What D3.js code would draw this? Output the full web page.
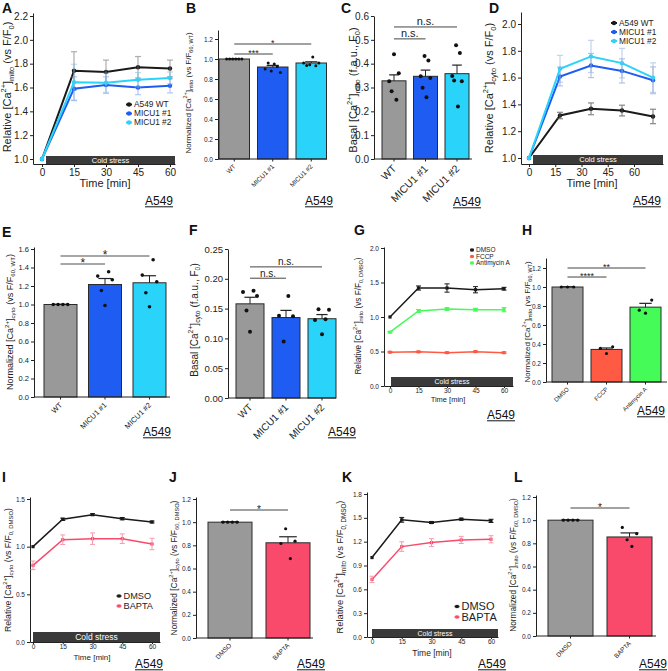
<!DOCTYPE html>
<html><head><meta charset="utf-8">
<script src="https://cdn.jsdelivr.net/npm/d3@7"></script>
<style>body{margin:0;background:#fff}svg{display:block}</style>
</head><body><script>
// ================= DATA =================
const timePoints = [0, 15, 30, 45, 60];
const timeTicks = [0, 15, 30, 45, 60];
const micuCats = ["WT", "MICU1 #1", "MICU1 #2"];
const drugCats = ["DMSO", "FCCP", "Antimycin A"];
const baptaCats = ["DMSO", "BAPTA"];
const micuLegend = ["A549 WT", "MICU1 #1", "MICU1 #2"];
const drugLegend = ["DMSO", "FCCP", "Antimycin A"];
const baptaLegend = ["DMSO", "BAPTA"];

// A: relative mito Ca
const aTicks = [1.0, 1.2, 1.4, 1.6, 1.8, 2.0, 2.2];
const aWT = [1.0, 1.74, 1.73, 1.77, 1.76];
const aWTErr = [0, 0.16, 0.10, 0.09, 0.07];
const aM1 = [1.0, 1.59, 1.62, 1.60, 1.615];
const aM1Err = [0, 0.10, 0.07, 0.06, 0.06];
const aM2 = [1.0, 1.645, 1.64, 1.665, 1.68];
const aM2Err = [0, 0.15, 0.08, 0.06, 0.05];

// B: normalized mito
const bTicks = [0, 0.2, 0.4, 0.6, 0.8, 1.0, 1.2];
const bMean = [1.0, 0.92, 0.96];
const bSem = [0.004, 0.016, 0.012];
const bPoints = [[1, 1, 1, 1, 1, 1], [0.90, 0.96, 0.88, 0.95, 0.926, 0.866], [0.96, 0.936, 0.943, 1.02, 0.933, 0.96]];

// C: basal mito
const cTicks = [0, 0.1, 0.2, 0.3, 0.4, 0.5, 0.6];
const cMean = [0.328, 0.347, 0.358];
const cSem = [0.025, 0.026, 0.036];
const cPoints = [[0.326, 0.284, 0.44, 0.249, 0.36], [0.347, 0.299, 0.432, 0.259, 0.413, 0.34], [0.348, 0.329, 0.477, 0.22, 0.445, 0.326]];

// D: relative cyto
const dTicks = [1.0, 1.2, 1.4, 1.6, 1.8, 2.0];
const dWT = [1.0, 1.317, 1.367, 1.354, 1.31];
const dWTErr = [0, 0.024, 0.044, 0.04, 0.054];
const dM1 = [1.0, 1.608, 1.69, 1.65, 1.58];
const dM1Err = [0, 0.07, 0.09, 0.09, 0.1];
const dM2 = [1.0, 1.666, 1.758, 1.708, 1.6];
const dM2Err = [0, 0.1, 0.12, 0.11, 0.11];

// E: normalized cyto
const eTicks = [0, 0.2, 0.4, 0.6, 0.8, 1.0, 1.2, 1.4, 1.6];
const eMean = [1.0, 1.216, 1.235];
const eSem = [0.003, 0.065, 0.076];
const ePoints = [[1, 1, 1, 1], [1.307, 1.152, 0.99, 1.354, 1.268], [1.318, 1.127, 0.975, 1.484, 1.246]];

// F: basal cyto
const fTicks = [0, 0.05, 0.10, 0.15, 0.20, 0.25];
const fMean = [0.158, 0.135, 0.133];
const fSem = [0.011, 0.012, 0.007];
const fPoints = [[0.178, 0.147, 0.111, 0.180, 0.171], [0.138, 0.095, 0.171, 0.137], [0.131, 0.149, 0.107, 0.132, 0.148]];

// G: relative mito with drugs
const gTicks = [0, 0.5, 1.0, 1.5, 2.0];
const gDMSO = [1.0, 1.42, 1.42, 1.395, 1.41];
const gDMSOErr = [0, 0.03, 0.06, 0.045, 0.02];
const gFCCP = [0.49, 0.495, 0.483, 0.498, 0.483];
const gFCCPErr = [0.008, 0.01, 0.01, 0.01, 0.01];
const gAnti = [0.78, 1.087, 1.116, 1.106, 1.106];
const gAntiErr = [0.01, 0.02, 0.02, 0.02, 0.03];

// H: normalized mito with drugs
const hTicks = [0, 0.2, 0.4, 0.6, 0.8, 1.0, 1.2];
const hMean = [1.0, 0.343, 0.788];
const hSem = [0.003, 0.015, 0.04];
const hPoints = [[1, 1, 1], [0.353, 0.30, 0.37], [0.756, 0.724, 0.862]];

// I: relative cyto with BAPTA
const iTicks = [0, 0.5, 1.0, 1.5];
const iDMSO = [1.0, 1.287, 1.336, 1.294, 1.259];
const iDMSOErr = [0, 0.012, 0.01, 0.012, 0.01];
const iBAPTA = [0.804, 1.073, 1.084, 1.084, 1.028];
const iBAPTAErr = [0.045, 0.05, 0.06, 0.05, 0.06];

// J: normalized cyto with BAPTA
const jTicks = [0, 0.2, 0.4, 0.6, 0.8, 1.0, 1.2];
const jMean = [1.0, 0.822];
const jSem = [0.004, 0.052];
const jPoints = [[1, 1, 1, 1], [0.816, 0.943, 0.686, 0.836]];

// K: relative mito with BAPTA
const kTicks = [0, 0.3, 0.6, 0.9, 1.2, 1.5, 1.8];
const kDMSO = [1.0, 1.475, 1.441, 1.483, 1.462];
const kDMSOErr = [0, 0.03, 0.012, 0.012, 0.02];
const kBAPTA = [0.725, 1.138, 1.188, 1.222, 1.23];
const kBAPTAErr = [0.04, 0.06, 0.05, 0.045, 0.045];

// L: normalized mito with BAPTA
const lTicks = [0, 0.2, 0.4, 0.6, 0.8, 1.0, 1.2];
const lMean = [1.0, 0.855];
const lSem = [0.004, 0.035];
const lPoints = [[1, 1, 1, 1], [0.937, 0.831, 0.773, 0.883]];

// ================= STYLE =================
const FONT = "'Liberation Sans', Arial, Helvetica, sans-serif";
const INK = "#222";
const GRAY = "#999999", BLUE = "#1f5cf2", CYAN = "#2ad3fa";
const RED = "#ff5a44", GREEN = "#44fb58", PINK = "#fa4a6c";

const svg = d3.select("body").append("svg")
  .attr("width", 668).attr("height", 671)
  .style("font-family", FONT).style("background", "#fff");

function anchored(v0, p0, v1, p1, pa, pb) {
  const s = d3.scaleLinear().domain([v0, v1]).range([p0, p1]);
  return d3.scaleLinear().domain([s.invert(pa), s.invert(pb)]).range([pa, pb]);
}

function richText(sel, parts, fs) {
  let shift = 0;
  parts.forEach(([t, k]) => {
    const target = k === "sup" ? -0.42 * fs : k === "sub" ? 0.25 * fs : 0;
    const ts = sel.append("tspan").text(t).attr("dy", target - shift);
    if (k) ts.attr("font-size", fs * 0.68);
    shift = target;
  });
}

function yLabel(cx, cy, parts, fs) {
  const t = svg.append("text")
    .attr("transform", `translate(${cx + 0.35 * fs},${cy}) rotate(-90)`)
    .attr("text-anchor", "middle").attr("font-size", fs).attr("fill", INK);
  richText(t, parts, fs);
}

function lbl(kind, loc, sub) {
  if (kind === "rel") return [["Relative [Ca"], ["2+", "sup"], ["]"], [loc, "sub"], [" (vs F/F"], [sub, "sub"], [")"]];
  if (kind === "norm") return [["Normalized [Ca"], ["2+", "sup"], ["]"], [loc, "sub"], [" (vs F/F"], [sub, "sub"], [")"]];
  return [["Basal [Ca"], ["2+", "sup"], ["]"], [loc, "sub"], [" (f.a.u., F"], [sub, "sub"], [")"]];
}

function styleAxis(g, fs) {
  g.attr("font-family", FONT).attr("font-size", fs);
  g.select(".domain").attr("stroke", INK).attr("stroke-width", 1);
  g.selectAll(".tick line").attr("stroke", INK);
  g.selectAll(".tick text").attr("fill", INK);
}

function marker(g, shape, x, y, r, color) {
  if (shape === "sq") g.append("rect").attr("x", x - r).attr("y", y - r).attr("width", 2 * r).attr("height", 2 * r).attr("fill", color);
  else g.append("circle").attr("cx", x).attr("cy", y).attr("r", r).attr("fill", color);
}

// ---------- line panel ----------
function linePanel(c) {
  const y = anchored(c.yA[0], c.yA[1], c.yA[2], c.yA[3], c.xAxisY, c.yTop);
  const x = anchored(0, c.xA[0], 60, c.xA[1], c.yAxisX, c.xEnd);
  const xt = c.xT ? anchored(0, c.xT[0], 60, c.xT[1], c.yAxisX, c.xEnd) : x;
  const g = svg.append("g");
  const cx0 = x(0) + c.coldOff;
  g.append("rect").attr("x", cx0).attr("y", c.xAxisY - c.coldH)
    .attr("width", c.xEnd - cx0).attr("height", c.coldH).attr("fill", "#3a3a3a");
  g.append("text").attr("x", (cx0 + c.xEnd) / 2).attr("y", c.xAxisY - c.coldH / 2 + c.coldFs * 0.36)
    .attr("text-anchor", "middle").attr("font-size", c.coldFs).attr("fill", "#fff").text("Cold stress");
  const ga = g.append("g").attr("transform", `translate(${c.yAxisX},0)`)
    .call(d3.axisLeft(y).tickValues(c.yTicks).tickFormat(d3.format(c.yFmt)).tickSize(3).tickPadding(2).tickSizeOuter(0));
  styleAxis(ga, c.tickFs);
  const gb = g.append("g").attr("transform", `translate(0,${c.xAxisY})`)
    .call(d3.axisBottom(xt).tickValues(timeTicks).tickSize(c.xTickSize).tickPadding(c.xTickPad).tickSizeOuter(0));
  styleAxis(gb, c.tickFs);
  const ln = d3.line().x((d, i) => x(timePoints[i])).y(d => y(d));
  c.series.forEach(s => {
    g.append("path").datum(s.vals).attr("d", ln).attr("fill", "none")
      .attr("stroke", s.color).attr("stroke-width", c.lineW);
    s.vals.forEach((v, i) => marker(g, c.shape, x(timePoints[i]), y(v), c.mr, s.color));
    drawErr(s);
  });
  function drawErr(s) {
    const eg = g.append("g").attr("stroke", s.errColor).attr("stroke-width", c.errW).attr("opacity", s.errOp);
    s.vals.forEach((v, i) => {
      const e = s.err[i]; if (!e) return;
      const xx = x(timePoints[i]);
      eg.append("line").attr("x1", xx).attr("x2", xx).attr("y1", y(v - e)).attr("y2", y(v + e));
      [v - e, v + e].forEach(w => eg.append("line").attr("x1", xx - c.cap).attr("x2", xx + c.cap).attr("y1", y(w)).attr("y2", y(w)));
    });
  }
  c.series.forEach((s, i) => {
    const ly = c.leg.ys[i];
    g.append("line").attr("x1", c.leg.x - c.leg.len / 2).attr("x2", c.leg.x + c.leg.len / 2)
      .attr("y1", ly).attr("y2", ly).attr("stroke", s.color).attr("stroke-width", c.lineW);
    marker(g, c.shape, c.leg.x, ly, c.mr, s.color);
    g.append("text").attr("x", c.leg.x + c.leg.len / 2 + 2).attr("y", ly + c.leg.fs * 0.36)
      .attr("font-size", c.leg.fs).attr("fill", INK).text(s.name);
  });
  g.append("text").attr("x", c.time[0]).attr("y", c.time[1]).attr("text-anchor", "middle")
    .attr("font-size", c.time[2]).attr("fill", INK).text("Time [min]");
  yLabel(c.yl[0], c.yl[1], c.yl[2], c.yl[3]);
}

// ---------- bar panel ----------
function barPanel(c) {
  const y = anchored(c.yA[0], c.yA[1], c.yA[2], c.yA[3], c.xAxisY, c.yTop);
  const n = c.cats.length;
  const pi = 1 - c.bw / c.step, po = 0.5;
  const r0 = c.left - c.step * po;
  const xb = d3.scaleBand().domain(c.cats).range([r0, r0 + c.step * (n - pi + 2 * po)])
    .paddingInner(pi).paddingOuter(po);
  const bw = xb.bandwidth();
  const g = svg.append("g");
  c.cats.forEach((cat, i) => {
    g.append("rect").attr("x", xb(cat)).attr("y", y(c.mean[i])).attr("width", bw)
      .attr("height", y(0) - y(c.mean[i])).attr("fill", c.colors[i])
      .attr("stroke", "#2a2a2a").attr("stroke-width", 1);
  });
  c.cats.forEach((cat, i) => {
    const cx = xb(cat) + bw / 2, top = y(c.mean[i] + c.sem[i]);
    g.append("line").attr("x1", cx).attr("x2", cx).attr("y1", y(c.mean[i])).attr("y2", top).attr("stroke", INK);
    g.append("line").attr("x1", cx - bw * 0.2).attr("x2", cx + bw * 0.2).attr("y1", top).attr("y2", top).attr("stroke", INK).attr("stroke-width", 1.2);
  });
  c.cats.forEach((cat, i) => {
    const pts = c.points[i], m = pts.length, cx = xb(cat) + bw / 2;
    pts.forEach((v, j) => {
      const off = m > 1 ? (j / (m - 1) - 0.5) * 2 * c.spread * bw : 0;
      g.append("circle").attr("cx", cx + off).attr("cy", y(v)).attr("r", c.ptR).attr("fill", "#111");
    });
  });
  const ga = g.append("g").attr("transform", `translate(${c.yAxisX},0)`)
    .call(d3.axisLeft(y).tickValues(c.yTicks).tickFormat(d3.format(c.yFmt)).tickSize(3).tickPadding(2).tickSizeOuter(0));
  styleAxis(ga, c.tickFs);
  g.append("line").attr("x1", c.yAxisX).attr("x2", c.xEnd).attr("y1", y(0)).attr("y2", y(0)).attr("stroke", INK);
  c.cats.forEach(cat => {
    const cx = xb(cat) + bw / 2;
    g.append("line").attr("x1", cx).attr("x2", cx).attr("y1", y(0)).attr("y2", y(0) + 2.5).attr("stroke", INK);
    const tx = cx + c.xTickFs * 0.3, ty = y(0) + 4 + c.xTickFs * 0.6;
    g.append("text").attr("x", tx).attr("y", ty).attr("text-anchor", "end")
      .attr("transform", `rotate(-45,${tx},${ty})`).attr("font-size", c.xTickFs).attr("fill", INK).text(cat);
  });
  c.sig.forEach(s => {
    const x1 = xb(c.cats[s.a]) + bw / 2, x2 = xb(c.cats[s.b]) + bw / 2, yy = y(s.v);
    g.append("line").attr("x1", x1).attr("x2", x2).attr("y1", yy).attr("y2", yy)
      .attr("stroke", c.sigColor || "#444").attr("stroke-width", c.sigW || 1);
    const star = s.t.indexOf("*") >= 0;
    g.append("text").attr("x", (x1 + x2) / 2).attr("y", yy - (star ? -c.sigFs * 0.25 : c.sigFs * 0.15))
      .attr("text-anchor", "middle").attr("font-size", c.sigFs).attr("fill", INK).text(s.t);
  });
  yLabel(c.yl[0], c.yl[1], c.yl[2], c.yl[3]);
}

// ================= PANELS =================
linePanel({
  yAxisX: 33, xAxisY: 164, yTop: 13, yA: [1.0, 159, 2.2, 16], xA: [42, 170], xEnd: 175,
  yTicks: aTicks, yFmt: ".1f", tickFs: 10, xTickSize: 3, xTickPad: 2, coldOff: 4, coldH: 8, coldFs: 7.5,
  lineW: 2, mr: 2.2, shape: "c", errW: 1.2, cap: 3,
  series: [
    { name: micuLegend[0], vals: aWT, err: aWTErr, color: "#1a1a1a", errColor: "#777", errOp: 0.6 },
    { name: micuLegend[1], vals: aM1, err: aM1Err, color: BLUE, errColor: "#6d8fe8", errOp: 0.5 },
    { name: micuLegend[2], vals: aM2, err: aM2Err, color: CYAN, errColor: "#7fb8e0", errOp: 0.5 }
  ],
  leg: { x: 129, ys: [104.5, 113.5, 122.5], fs: 8.3, len: 6 },
  time: [105, 187, 11],
  yl: [7, 87, lbl("rel", "mito", "0"), 11]
});

barPanel({
  yAxisX: 218, xAxisY: 159, yTop: 30, yA: [0, 159, 1.2, 39], left: 219, bw: 30.5, step: 38.5, xEnd: 327,
  cats: micuCats, mean: bMean, sem: bSem, points: bPoints, colors: [GRAY, BLUE, CYAN],
  yTicks: bTicks, yFmt: ".1f", tickFs: 6.5, xTickFs: 6.5, ptR: 1.5, spread: 0.25,
  sig: [{ a: 0, b: 1, v: 1.05, t: "***" }, { a: 0, b: 2, v: 1.15, t: "*" }], sigFs: 9,
  yl: [188, 93, lbl("norm", "mito", "60, WT"), 8]
});

barPanel({
  yAxisX: 374, xAxisY: 159, yTop: 16, yA: [0, 159, 0.6, 16], left: 382, bw: 24, step: 31.5, xEnd: 472,
  cats: micuCats, mean: cMean, sem: cSem, points: cPoints, colors: [GRAY, BLUE, CYAN],
  yTicks: cTicks, yFmt: ".1f", tickFs: 10, xTickFs: 10.5, ptR: 2, spread: 0.2,
  sig: [{ a: 0, b: 1, v: 0.504, t: "n.s." }, { a: 0, b: 2, v: 0.554, t: "n.s." }], sigFs: 11,
  yl: [353, 90, lbl("basal", "mito", "0"), 11]
});

linePanel({
  yAxisX: 521, xAxisY: 164, yTop: 12, yA: [1.0, 158, 2.0, 24], xA: [529, 653], xT: [529, 634], xEnd: 663,
  yTicks: dTicks, yFmt: ".1f", tickFs: 10, xTickSize: 3, xTickPad: 2, coldOff: 4, coldH: 9, coldFs: 7.5,
  lineW: 2, mr: 2.2, shape: "c", errW: 1.2, cap: 3,
  series: [
    { name: micuLegend[0], vals: dWT, err: dWTErr, color: "#1a1a1a", errColor: "#555", errOp: 0.7 },
    { name: micuLegend[1], vals: dM1, err: dM1Err, color: BLUE, errColor: "#7d8fd0", errOp: 0.55 },
    { name: micuLegend[2], vals: dM2, err: dM2Err, color: CYAN, errColor: "#8fb0e0", errOp: 0.55 }
  ],
  leg: { x: 614, ys: [23, 32, 41], fs: 8.3, len: 6 },
  time: [592, 187, 11],
  yl: [489, 88, lbl("rel", "cyto", "0"), 11]
});

barPanel({
  yAxisX: 34, xAxisY: 397, yTop: 247, yA: [0, 397, 1.6, 249], left: 44, bw: 33, step: 44.5, xEnd: 170,
  cats: micuCats, mean: eMean, sem: eSem, points: ePoints, colors: [GRAY, BLUE, CYAN],
  yTicks: eTicks, yFmt: ".1f", tickFs: 7.5, xTickFs: 7.5, ptR: 1.8, spread: 0.22,
  sig: [{ a: 0, b: 1, v: 1.438, t: "*" }, { a: 0, b: 2, v: 1.524, t: "*" }], sigFs: 12, sigColor: "#8a8a8a", sigW: 1.5,
  yl: [10, 322, lbl("norm", "cyto", "60, WT"), 9]
});

barPanel({
  yAxisX: 228, xAxisY: 398, yTop: 249, yA: [0, 398, 0.25, 249], left: 236, bw: 28, step: 36, xEnd: 336,
  cats: micuCats, mean: fMean, sem: fSem, points: fPoints, colors: [GRAY, BLUE, CYAN],
  yTicks: fTicks, yFmt: ".2f", tickFs: 9.5, xTickFs: 10, ptR: 2, spread: 0.25,
  sig: [{ a: 0, b: 1, v: 0.201, t: "n.s." }, { a: 0, b: 2, v: 0.22, t: "n.s." }], sigFs: 10,
  yl: [194, 320, lbl("basal", "cyto", "0"), 10]
});

linePanel({
  yAxisX: 384, xAxisY: 386, yTop: 247, yA: [0, 386, 2.0, 248], xA: [390, 504], xEnd: 513,
  yTicks: gTicks, yFmt: ".1f", tickFs: 6.5, xTickSize: 2, xTickPad: 0.5, coldOff: 1, coldH: 9, coldFs: 7,
  lineW: 1.5, mr: 1.6, shape: "sq", errW: 1, cap: 2.5,
  series: [
    { name: drugLegend[0], vals: gDMSO, err: gDMSOErr, color: "#1a1a1a", errColor: "#1a1a1a", errOp: 1 },
    { name: drugLegend[1], vals: gFCCP, err: gFCCPErr, color: RED, errColor: RED, errOp: 1 },
    { name: drugLegend[2], vals: gAnti, err: gAntiErr, color: GREEN, errColor: GREEN, errOp: 1 }
  ],
  leg: { x: 472, ys: [250, 256.5, 263], fs: 6.5, len: 4 },
  time: [448, 402, 7.5],
  yl: [358, 316, lbl("rel", "mito", "0, DMSO"), 8.2]
});

barPanel({
  yAxisX: 546, xAxisY: 382, yTop: 258, yA: [0, 382, 1.2, 268], left: 552, bw: 31, step: 39, xEnd: 667,
  cats: drugCats, mean: hMean, sem: hSem, points: hPoints, colors: [GRAY, RED, GREEN],
  yTicks: hTicks, yFmt: ".1f", tickFs: 6.5, xTickFs: 6, ptR: 1.6, spread: 0.2,
  sig: [{ a: 0, b: 1, v: 1.105, t: "****" }, { a: 0, b: 2, v: 1.2, t: "**" }], sigFs: 9,
  yl: [527, 322, lbl("norm", "mito", "60, WT"), 8]
});

linePanel({
  yAxisX: 30, xAxisY: 642, yTop: 497, yA: [0, 642, 1.5, 499], xA: [33, 152], xEnd: 160,
  yTicks: iTicks, yFmt: ".1f", tickFs: 6.5, xTickSize: 2, xTickPad: 0.5, coldOff: 0, coldH: 10, coldFs: 8.5,
  lineW: 1.5, mr: 1.6, shape: "sq", errW: 1, cap: 2.5,
  series: [
    { name: baptaLegend[0], vals: iDMSO, err: iDMSOErr, color: "#1a1a1a", errColor: "#1a1a1a", errOp: 1 },
    { name: baptaLegend[1], vals: iBAPTA, err: iBAPTAErr, color: PINK, errColor: "#f59aab", errOp: 1 }
  ],
  leg: { x: 119, ys: [596, 606], fs: 9.2, len: 5 },
  time: [92, 660, 8],
  yl: [8, 570, lbl("rel", "cyto", "0, DMSO"), 8.7]
});

barPanel({
  yAxisX: 196, xAxisY: 638, yTop: 497, yA: [0, 638, 1.2, 499], left: 208, bw: 44, step: 58, xEnd: 313,
  cats: baptaCats, mean: jMean, sem: jSem, points: jPoints, colors: [GRAY, PINK],
  yTicks: jTicks, yFmt: ".1f", tickFs: 6.5, xTickFs: 6.5, ptR: 1.6, spread: 0.16,
  sig: [{ a: 0, b: 1, v: 1.105, t: "*" }], sigFs: 10,
  yl: [174, 568, lbl("norm", "cyto", "60, DMSO"), 8.4]
});

linePanel({
  yAxisX: 367, xAxisY: 637, yTop: 492, yA: [0, 637, 1.8, 494], xA: [372, 491], xEnd: 498,
  yTicks: kTicks, yFmt: ".1f", tickFs: 6.5, xTickSize: 2, xTickPad: 0.5, coldOff: 0, coldH: 8, coldFs: 7,
  lineW: 1.5, mr: 1.6, shape: "sq", errW: 1, cap: 2.5,
  series: [
    { name: baptaLegend[0], vals: kDMSO, err: kDMSOErr, color: "#1a1a1a", errColor: "#1a1a1a", errOp: 1 },
    { name: baptaLegend[1], vals: kBAPTA, err: kBAPTAErr, color: PINK, errColor: "#f59aab", errOp: 1 }
  ],
  leg: { x: 457, ys: [606.5, 617], fs: 11, len: 5 },
  time: [432, 656, 8.5],
  yl: [340, 567, lbl("rel", "mito", "0, DMSO"), 9.3]
});

barPanel({
  yAxisX: 536, xAxisY: 636, yTop: 495, yA: [0, 636, 1.2, 497], left: 548, bw: 45, step: 59, xEnd: 656,
  cats: baptaCats, mean: lMean, sem: lSem, points: lPoints, colors: [GRAY, PINK],
  yTicks: lTicks, yFmt: ".1f", tickFs: 6.5, xTickFs: 6.5, ptR: 1.6, spread: 0.16,
  sig: [{ a: 0, b: 1, v: 1.105, t: "*" }], sigFs: 10,
  yl: [513, 565, lbl("norm", "mito", "60, DMSO"), 8.3]
});

// ================= PANEL LETTERS & CELL LINE LABELS =================
const panelLetters = ["A", "B", "C", "D", "E", "F", "G", "H", "I", "J", "K", "L"];
const letterPos = [[2, 13], [186, 13], [341, 13], [489, 13], [2, 237], [189, 235], [354, 235], [522, 235], [2, 482], [169, 482], [342, 482], [514, 482]];
panelLetters.forEach((t, i) => svg.append("text").attr("x", letterPos[i][0]).attr("y", letterPos[i][1])
  .attr("font-size", 14).attr("font-weight", "bold").attr("fill", "#111").text(t));

const cellLine = "A549";
const cellPos = [[145, 205], [305, 205], [453, 206], [633, 205], [143, 436], [328, 436], [487, 419], [637, 415], [135, 668], [297, 668], [478, 668], [639, 668]];
cellPos.forEach(([x, y]) => {
  const t = svg.append("text").attr("x", x).attr("y", y).attr("font-size", 12).attr("fill", "#111").text(cellLine);
  const w = t.node().getComputedTextLength();
  svg.append("line").attr("x1", x).attr("x2", x + w).attr("y1", y + 1.8).attr("y2", y + 1.8).attr("stroke", "#111").attr("stroke-width", 1);
});
</script></body></html>
